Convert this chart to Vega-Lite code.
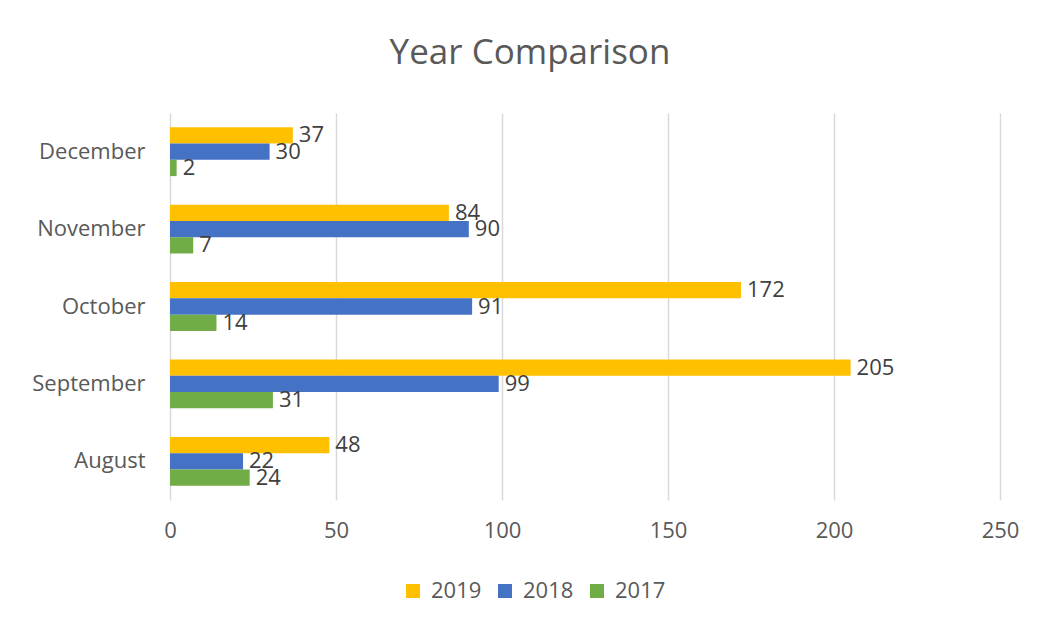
{
  "$schema": "https://vega.github.io/schema/vega-lite/v6.json",
  "autosize": {"type": "none"},
  "padding": {"left": 170, "top": 113, "right": 43, "bottom": 129},
  "width": 830,
  "height": 387,
  "background": "white",
  "title": {
    "text": "Year Comparison",
    "fontSize": 35,
    "font": "Open Sans",
    "fontWeight": "normal",
    "color": "#595959",
    "anchor": "middle",
    "baseline": "middle",
    "offset": 25,
    "dx": -55
  },
  "data": {
    "values": [
      {"month": "December", "year": "2019", "value": 37},
      {"month": "December", "year": "2018", "value": 30},
      {"month": "December", "year": "2017", "value": 2},
      {"month": "November", "year": "2019", "value": 84},
      {"month": "November", "year": "2018", "value": 90},
      {"month": "November", "year": "2017", "value": 7},
      {"month": "October", "year": "2019", "value": 172},
      {"month": "October", "year": "2018", "value": 91},
      {"month": "October", "year": "2017", "value": 14},
      {"month": "September", "year": "2019", "value": 205},
      {"month": "September", "year": "2018", "value": 99},
      {"month": "September", "year": "2017", "value": 31},
      {"month": "August", "year": "2019", "value": 48},
      {"month": "August", "year": "2018", "value": 22},
      {"month": "August", "year": "2017", "value": 24}
    ]
  },
  "encoding": {
    "y": {
      "field": "month",
      "type": "nominal",
      "sort": ["December", "November", "October", "September", "August"],
      "scale": {"paddingInner": 0.37, "paddingOuter": 0.185},
      "axis": {
        "title": null,
        "domain": false,
        "ticks": false,
        "labelFont": "Open Sans",
        "labelFontSize": 22,
        "labelColor": "#595959",
        "labelPadding": 25
      }
    },
    "yOffset": {
      "field": "year",
      "type": "nominal",
      "sort": ["2019", "2018", "2017"],
      "scale": {"paddingInner": 0, "paddingOuter": 0}
    },
    "x": {
      "field": "value",
      "type": "quantitative",
      "scale": {"domain": [0, 250]},
      "axis": {
        "title": null,
        "values": [0, 50, 100, 150, 200, 250],
        "domain": false,
        "ticks": false,
        "grid": true,
        "gridColor": "#d9d9d9",
        "gridWidth": 1.5,
        "labelFlush": false,
        "labelFont": "Open Sans",
        "labelFontSize": 22,
        "labelColor": "#595959",
        "labelPadding": 20
      }
    }
  },
  "layer": [
    {
      "mark": {"type": "bar"},
      "encoding": {
        "color": {
          "field": "year",
          "type": "nominal",
          "sort": ["2019", "2018", "2017"],
          "scale": {"domain": ["2019", "2018", "2017"], "range": ["#FFC000", "#4472C4", "#70AD47"]},
          "legend": {
            "title": null,
            "orient": "none",
            "direction": "horizontal",
            "legendX": 232,
            "legendY": 467,
            "symbolType": "square",
            "symbolSize": 196,
            "symbolStrokeWidth": 0,
            "symbolOpacity": 1,
            "labelFont": "Open Sans",
            "labelFontSize": 22,
            "labelColor": "#595959",
            "labelOffset": 7,
            "columnPadding": 12
          }
        }
      }
    },
    {
      "mark": {
        "type": "text",
        "align": "left",
        "baseline": "middle",
        "dx": 6,
        "font": "Open Sans",
        "fontSize": 22,
        "color": "#404040"
      },
      "encoding": {
        "text": {"field": "value", "type": "quantitative"}
      }
    }
  ],
  "config": {
    "view": {"stroke": null}
  }
}
